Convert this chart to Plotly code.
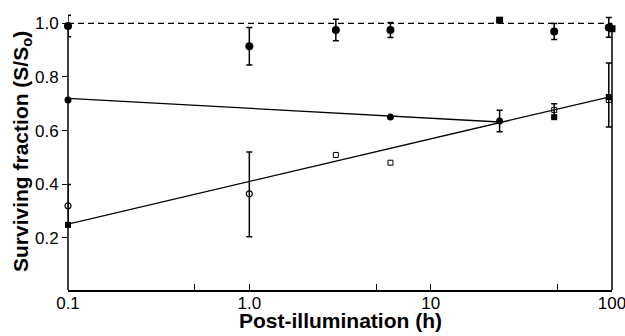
import plotly.graph_objects as go

# Series A: filled circles near 1.0 (dashed reference line)
a_x = [0.1, 1.0, 3.0, 6.0, 48.0, 96.0]
a_y = [0.99, 0.915, 0.975, 0.975, 0.97, 0.985]
a_err = [0.04, 0.07, 0.04, 0.028, 0.03, 0.037]
a_sq_x = [24.0, 100.0]
a_sq_y = [1.012, 0.98]
ref_x = [0.1, 100.0]
ref_y = [1.0, 1.0]

# Series B: filled markers, solid line 0.1 -> 24 h
b_x = [0.1, 6.0, 24.0]
b_y = [0.714, 0.651, 0.636]
b_err = [0.0, 0.0, 0.04]
b_line_x = [0.1, 24.0]
b_line_y = [0.72, 0.632]

# Series C: open markers, rising line 0.1 -> 100 h
c_circ_x = [0.1, 1.0]
c_circ_y = [0.319, 0.364]
c_circ_errp = [0.08, 0.156]
c_circ_errm = [0.07, 0.16]
c_sq_x = [3.0, 6.0, 48.0, 96.0]
c_sq_y = [0.509, 0.48, 0.677, 0.714]
c_fsq_x = [0.1, 48.0, 96.0]
c_fsq_y = [0.248, 0.65, 0.725]
c_fsq_errp = [0.0, 0.05, 0.127]
c_fsq_errm = [0.0, 0.0, 0.112]
c_line_x = [0.1, 100.0]
c_line_y = [0.251, 0.728]

x_ticks = [0.1, 1.0, 10, 100]
x_ticktext = ["0.1", "1.0", "10", "100"]
x_minor = [0.5, 5, 50]
y_ticks = [0.2, 0.4, 0.6, 0.8, 1.0]
y_ticktext = ["0.2", "0.4", "0.6", "0.8", "1.0"]
y_range = [0.005, 1.035]
spine_top = 1.0
x_title = "<b>Post-illumination (h)</b>"
y_title = "<b>Surviving fraction (S/S<sub>o</sub>)</b>"

K = "black"
fig = go.Figure()

fig.add_trace(go.Scatter(x=ref_x, y=ref_y, mode="lines",
                         line=dict(color=K, width=1.3, dash="6px,4px")))
fig.add_trace(go.Scatter(x=b_line_x, y=b_line_y, mode="lines", line=dict(color=K, width=1.3)))
fig.add_trace(go.Scatter(x=c_line_x, y=c_line_y, mode="lines", line=dict(color=K, width=1.3)))

fig.add_trace(go.Scatter(x=a_x, y=a_y, mode="markers",
                         marker=dict(symbol="circle", size=8, color=K),
                         error_y=dict(type="data", array=a_err, color=K, thickness=1.5, width=3),
                         cliponaxis=False))
fig.add_trace(go.Scatter(x=a_sq_x, y=a_sq_y, mode="markers",
                         marker=dict(symbol="square", size=7, color=K), cliponaxis=False))
fig.add_trace(go.Scatter(x=b_x, y=b_y, mode="markers",
                         marker=dict(symbol="circle", size=7, color=K),
                         error_y=dict(type="data", array=b_err, color=K, thickness=1.5, width=3),
                         cliponaxis=False))
fig.add_trace(go.Scatter(x=c_circ_x, y=c_circ_y, mode="markers",
                         marker=dict(symbol="circle-open", size=6, color=K, line=dict(width=1.2)),
                         error_y=dict(type="data", array=c_circ_errp, arrayminus=c_circ_errm,
                                      color=K, thickness=1.5, width=3),
                         cliponaxis=False))
fig.add_trace(go.Scatter(x=c_fsq_x, y=c_fsq_y, mode="markers",
                         marker=dict(symbol="square", size=6, color=K),
                         error_y=dict(type="data", array=c_fsq_errp, arrayminus=c_fsq_errm,
                                      color=K, thickness=1.5, width=3),
                         cliponaxis=False))
fig.add_trace(go.Scatter(x=c_sq_x, y=c_sq_y, mode="markers",
                         marker=dict(symbol="square-open", size=5, color=K, line=dict(width=1)),
                         cliponaxis=False))

# left and right spines ending at y = 1.0
for xp in (0, 1):
    fig.add_shape(type="line", xref="paper", yref="y", x0=xp, x1=xp,
                  y0=y_range[0], y1=spine_top, line=dict(color=K, width=1.5), layer="below")

font = dict(family="Liberation Sans, Arial, sans-serif", color=K)

# axis titles
fig.add_annotation(text=x_title, xref="paper", yref="paper", x=0.5, y=0,
                   xanchor="center", yanchor="top", yshift=-17, showarrow=False,
                   font=dict(size=21))
fig.add_annotation(text=y_title, xref="paper", yref="paper", x=0, y=0.5,
                   xanchor="center", yanchor="middle", xshift=-46, textangle=-90,
                   showarrow=False, font=dict(size=21))

fig.update_layout(
    width=625, height=336,
    margin=dict(l=68, r=13, t=14, b=46, autoexpand=False),
    paper_bgcolor="white", plot_bgcolor="white",
    showlegend=False,
    font=dict(**font, size=17),
    xaxis=dict(type="log", range=[-1, 2], showgrid=False, zeroline=False, automargin=False,
               showline=True, linecolor=K, linewidth=1.5,
               tickvals=x_ticks, ticktext=x_ticktext, ticks="inside", ticklen=6,
               tickwidth=1.3, tickcolor=K, tickfont=dict(size=17),
               ticklabeloverflow="allow", ticklabelstandoff=-3,
               minor=dict(tickvals=x_minor, ticks="inside", ticklen=6, tickwidth=1.3, tickcolor=K)),
    yaxis=dict(range=y_range, showgrid=False, zeroline=False, automargin=False,
               showline=False,
               tickvals=y_ticks, ticktext=y_ticktext, ticks="outside", ticklen=5,
               tickwidth=1.3, tickcolor=K, tickfont=dict(size=17)),
)

fig.write_html("out.html")
